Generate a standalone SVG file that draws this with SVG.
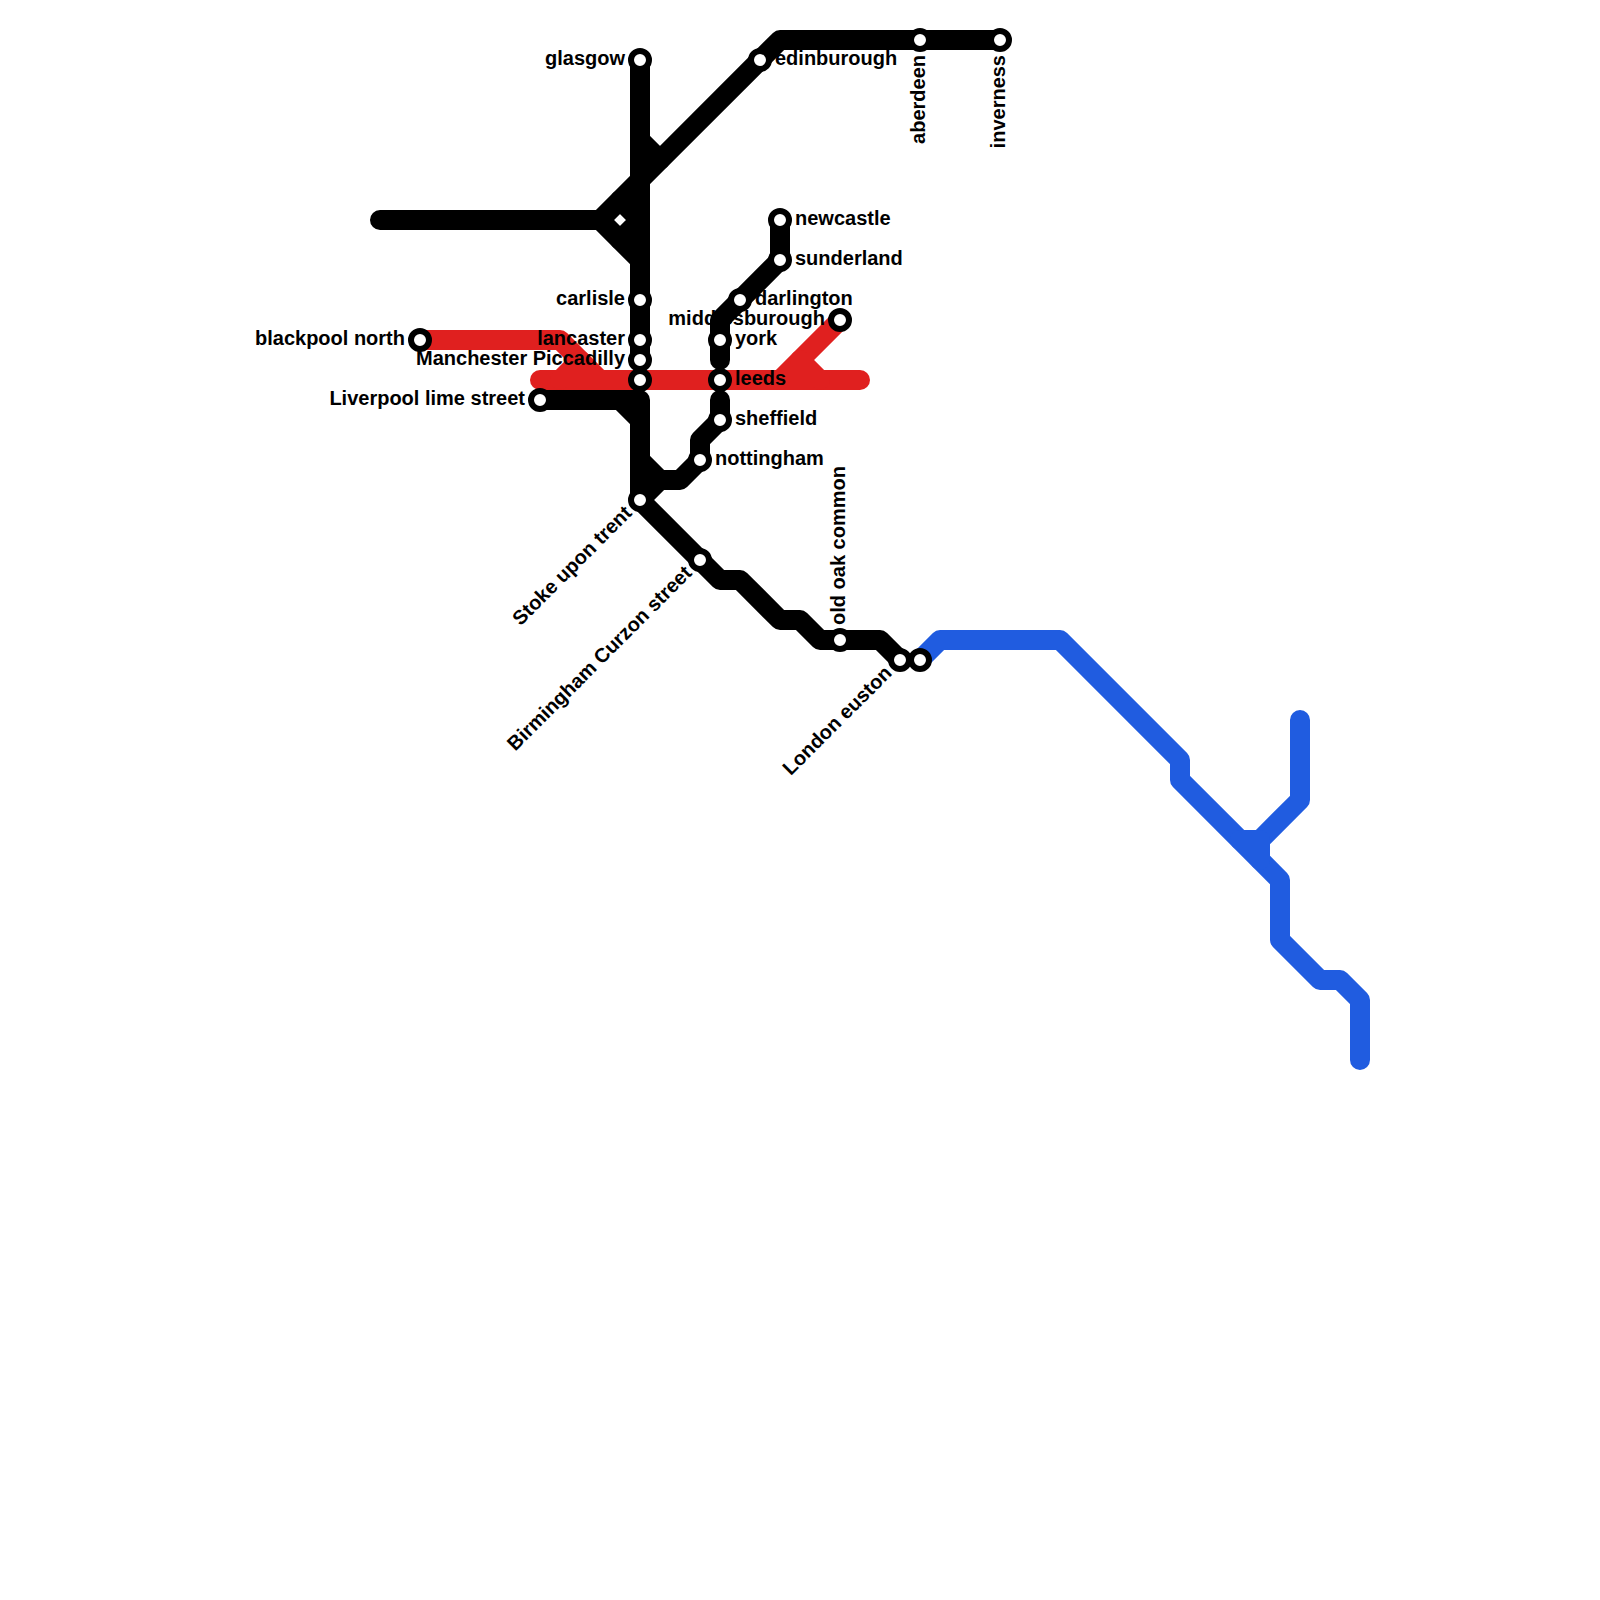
<svg xmlns="http://www.w3.org/2000/svg" width="1600" height="1600" viewBox="0 0 1600 1600">
<style>
.l{fill:none;stroke-width:20;stroke-linecap:round;stroke-linejoin:round}
.k{stroke:#000}.r{stroke:#e0201f}.b{stroke:#205ce0}
.s{fill:#fff;stroke:#000;stroke-width:6}
text{font-family:"Liberation Sans",Arial,sans-serif;font-weight:700;font-size:20px;fill:#000}
.e{text-anchor:end}
</style>
<rect width="1600" height="1600" fill="#fff"/>
<g id="connectors-red">
<path class="l r" d="M420 340H560L600 380"/>
<path class="l r" d="M540 380H860"/>
<path class="l r" d="M560 380L580 360"/>
<path class="l r" d="M840 320L780 380"/>
<path class="l r" d="M820 380L800 360"/>
</g>
<g id="label-middlesbrough"><text class="e" x="825" y="325">middlesburough</text></g>
<g id="connectors-black">
<path class="l k" d="M640 60V360"/>
<path class="l k" d="M380 220H600L640 180L780 40H1000"/>
<path class="l k" d="M600 220L640 260"/>
<path class="l k" d="M640 140L660 160"/>
<path class="l k" d="M620 200L640 220L620 240"/>
<path class="l k" d="M540 400H640V500L720 580H740L780 620H800L820 640H880L900 660"/>
<path class="l k" d="M620 400L640 420"/>
<path class="l k" d="M640 460L660 480H680L700 460V440L720 420V400"/>
<path class="l k" d="M660 480L640 500"/>
<path class="l k" d="M780 220V260L720 320V360"/>
</g>
<g id="connectors-blue">
<path class="l b" d="M920 660L940 640H1060L1180 760V780L1280 880V940L1320 980H1340L1360 1000V1060"/>
<path class="l b" d="M1300 720V800L1260 840"/>
<path class="l b" d="M1240 840H1260V860"/>
</g>
<g id="glasgow"><circle class="s" cx="640" cy="60" r="9"/><text class="e" x="625" y="65">glasgow</text></g>
<g id="edinburgh"><circle class="s" cx="760" cy="60" r="9"/><text x="775" y="65">edinburough</text></g>
<g id="aberdeen"><circle class="s" cx="920" cy="40" r="9"/><text class="e" transform="translate(920 40) rotate(-90)" x="-15" y="5">aberdeen</text></g>
<g id="inverness"><circle class="s" cx="1000" cy="40" r="9"/><text class="e" transform="translate(1000 40) rotate(-90)" x="-15" y="5">inverness</text></g>
<g id="newcastle"><circle class="s" cx="780" cy="220" r="9"/><text x="795" y="225">newcastle</text></g>
<g id="sunderland"><circle class="s" cx="780" cy="260" r="9"/><text x="795" y="265">sunderland</text></g>
<g id="darlington"><circle class="s" cx="740" cy="300" r="9"/><text x="755" y="305">darlington</text></g>
<g id="middlesbrough"><circle class="s" cx="840" cy="320" r="9"/></g>
<g id="york"><circle class="s" cx="720" cy="340" r="9"/><text x="735" y="345">york</text></g>
<g id="leeds"><circle class="s" cx="720" cy="380" r="9"/><text x="735" y="385">leeds</text></g>
<g id="sheffield"><circle class="s" cx="720" cy="420" r="9"/><text x="735" y="425">sheffield</text></g>
<g id="nottingham"><circle class="s" cx="700" cy="460" r="9"/><text x="715" y="465">nottingham</text></g>
<g id="carlisle"><circle class="s" cx="640" cy="300" r="9"/><text class="e" x="625" y="305">carlisle</text></g>
<g id="lancaster"><circle class="s" cx="640" cy="340" r="9"/><text class="e" x="625" y="345">lancaster</text></g>
<g id="manchester"><circle class="s" cx="640" cy="360" r="9"/><text class="e" x="625" y="365">Manchester Piccadilly</text></g>
<g id="manchester-red"><circle class="s" cx="640" cy="380" r="9"/></g>
<g id="blackpool"><circle class="s" cx="420" cy="340" r="9"/><text class="e" x="405" y="345">blackpool north</text></g>
<g id="liverpool"><circle class="s" cx="540" cy="400" r="9"/><text class="e" x="525" y="405">Liverpool lime street</text></g>
<g id="stoke"><circle class="s" cx="640" cy="500" r="9"/><text class="e" transform="translate(640 500) rotate(-45)" x="-15" y="5">Stoke upon trent</text></g>
<g id="birmingham"><circle class="s" cx="700" cy="560" r="9"/><text class="e" transform="translate(700 560) rotate(-45)" x="-15" y="5">Birmingham Curzon street</text></g>
<g id="old-oak"><circle class="s" cx="840" cy="640" r="9"/><text transform="translate(840 640) rotate(-90)" x="15" y="5">old oak common</text></g>
<g id="euston"><circle class="s" cx="900" cy="660" r="9"/><text class="e" transform="translate(900 660) rotate(-45)" x="-15" y="5">London euston</text></g>
<g id="euston-blue"><circle class="s" cx="920" cy="660" r="9"/></g>
</svg>
